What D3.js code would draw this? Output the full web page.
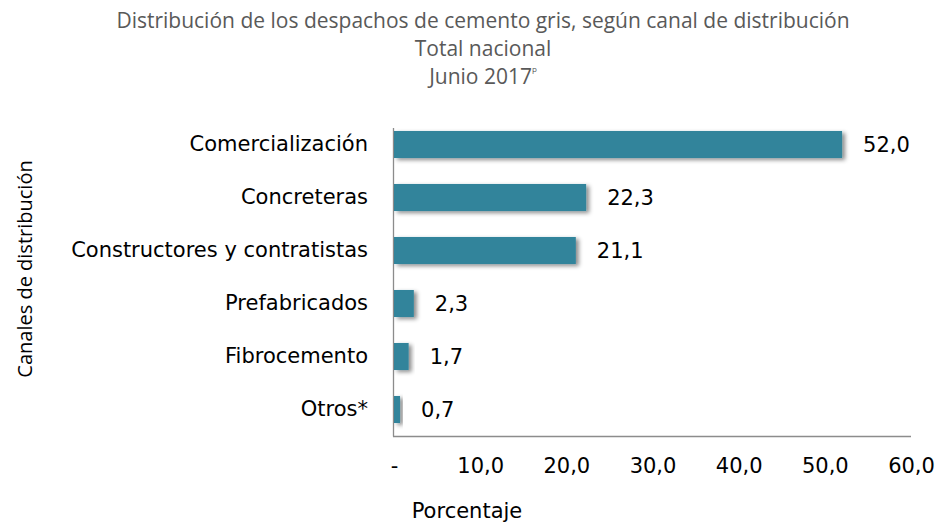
<!DOCTYPE html>
<html>
  <head>
    <meta charset="UTF-8" />
    <script src="https://cdnjs.cloudflare.com/ajax/libs/d3/7.8.5/d3.min.js"></script>
    <style>
      body { margin: 0; background: #fff; }
    </style>
  </head>
  <body>
    <svg id="chart" width="937" height="525"></svg>
    <script>
      const categories = [
        "Comercialización",
        "Concreteras",
        "Constructores y contratistas",
        "Prefabricados",
        "Fibrocemento",
        "Otros*"
      ];
      const values = [52.0, 22.3, 21.1, 2.3, 1.7, 0.7];
      const xTicks = [0, 10, 20, 30, 40, 50, 60];
      const titleLines = [
        "Distribución de los despachos de cemento gris, según canal de distribución",
        "Total nacional",
        "Junio 2017"
      ];

      const barColor = "#31849b",
        axisColor = "#8c8c8c",
        titleColor = "#595959";
      const labelFont = "'DejaVu Sans', Verdana, sans-serif",
        titleFont = "'Open Sans', sans-serif",
        labelSize = "21px";

      const fmt = v => (v === 0 ? "-" : d3.format(".1f")(v).replace(".", ","));

      const svg = d3.select("#chart");

      // drop shadow for the bars
      const filter = svg
        .append("defs")
        .append("filter")
        .attr("id", "shadow")
        .attr("x", "-20%")
        .attr("y", "-30%")
        .attr("width", "160%")
        .attr("height", "180%");
      filter
        .append("feDropShadow")
        .attr("dx", 3)
        .attr("dy", 2)
        .attr("stdDeviation", 2.2)
        .attr("flood-color", "#000")
        .attr("flood-opacity", 0.45);

      const xScale = d3.scaleLinear().domain([0, 60]).range([394, 911]);
      const yScale = d3
        .scaleBand()
        .domain(categories)
        .range([118, 436])
        .paddingInner(0.49)
        .paddingOuter(0.245);

      // title
      svg
        .append("g")
        .selectAll("text")
        .data(titleLines)
        .enter()
        .append("text")
        .attr("x", 483)
        .attr("y", (d, i) => 28 + i * 28)
        .attr("text-anchor", "middle")
        .style("font-family", titleFont)
        .style("font-size", "21px")
        .style("fill", titleColor)
        .text(d => d)
        .filter((d, i) => i === 2)
        .append("tspan")
        .attr("dy", -12)
        .style("font-size", "8px")
        .text("p");

      // axis lines
      svg
        .append("line")
        .attr("x1", xScale(0) - 0.5)
        .attr("x2", xScale(0) - 0.5)
        .attr("y1", 128)
        .attr("y2", 436.5)
        .attr("stroke", axisColor)
        .attr("stroke-width", 1.3);
      svg
        .append("line")
        .attr("x1", xScale(0) - 1)
        .attr("x2", xScale(60))
        .attr("y1", 436.5)
        .attr("y2", 436.5)
        .attr("stroke", axisColor)
        .attr("stroke-width", 1.3);

      // bars
      svg
        .selectAll("rect.bar")
        .data(values)
        .enter()
        .append("rect")
        .attr("class", "bar")
        .attr("x", xScale(0))
        .attr("y", (d, i) => yScale(categories[i]))
        .attr("width", d => xScale(d) - xScale(0))
        .attr("height", yScale.bandwidth())
        .attr("fill", barColor)
        .attr("filter", "url(#shadow)");

      // value labels
      svg
        .selectAll("text.value")
        .data(values)
        .enter()
        .append("text")
        .attr("class", "value")
        .attr("x", d => xScale(d) + 21)
        .attr("y", (d, i) => yScale(categories[i]) + yScale.bandwidth() / 2)
        .attr("dy", "0.36em")
        .style("font-family", labelFont)
        .style("font-size", labelSize)
        .style("fill", "#000")
        .text(fmt);

      // category labels
      const yAxis = d3.axisLeft(yScale).tickSize(0).tickPadding(26);
      const yAxisG = svg
        .append("g")
        .attr("transform", `translate(${xScale(0)},0)`)
        .call(yAxis);
      yAxisG.select(".domain").remove();
      yAxisG
        .selectAll("text")
        .style("font-family", labelFont)
        .style("font-size", labelSize)
        .style("fill", "#000");

      // x tick labels
      const xAxis = d3.axisBottom(xScale).tickValues(xTicks).tickSize(0).tickPadding(22).tickFormat(fmt);
      const xAxisG = svg
        .append("g")
        .attr("transform", "translate(0,436)")
        .call(xAxis);
      xAxisG.select(".domain").remove();
      xAxisG
        .selectAll("text")
        .style("font-family", labelFont)
        .style("font-size", labelSize)
        .style("fill", "#000");

      // axis titles
      svg
        .append("text")
        .attr("x", 467)
        .attr("y", 518)
        .attr("text-anchor", "middle")
        .style("font-family", labelFont)
        .style("font-size", labelSize)
        .style("fill", "#000")
        .text("Porcentaje");

      svg
        .append("text")
        .attr("transform", "translate(32,269) rotate(-90)")
        .attr("text-anchor", "middle")
        .style("font-family", titleFont)
        .style("font-size", "20px")
        .style("fill", "#000")
        .text("Canales de distribución");
    </script>
  </body>
</html>
